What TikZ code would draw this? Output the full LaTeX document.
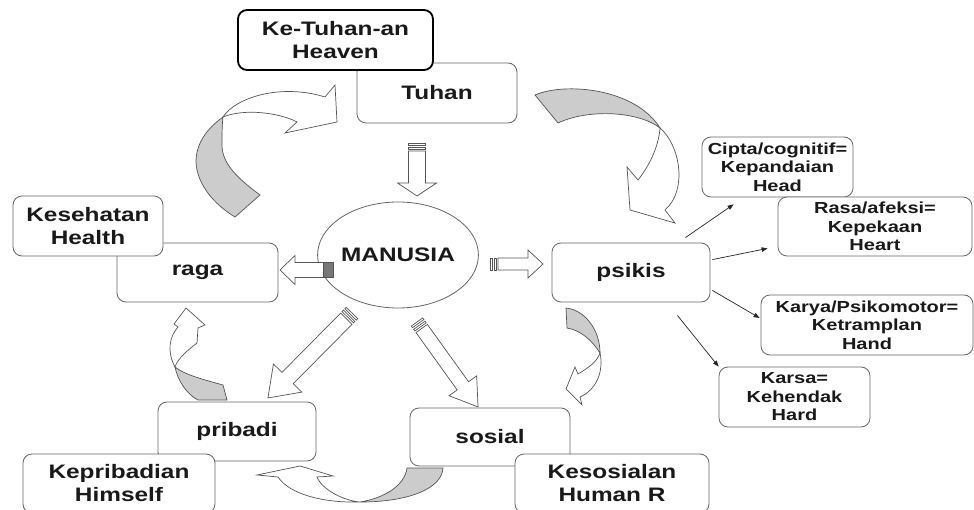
\documentclass[tikz,border=0pt]{standalone}
\usepackage{fontspec}
\setmainfont{Liberation Sans}
\newfontfamily\lbl[FakeStretch=1.25]{Liberation Sans}
\usetikzlibrary{shapes.geometric,arrows.meta,calc}
\definecolor{linegray}{HTML}{555555}
\definecolor{boxgray}{HTML}{666666}
\definecolor{shade}{HTML}{CCCCCC}
\definecolor{tailgray}{HTML}{777777}
\tikzset{
 box/.style={draw=boxgray, line width=0.8pt, fill=white, rounded corners=9pt, inner sep=0pt, align=center, text=black!90, font=\lbl\bfseries\fontsize{19.5}{23}\selectfont},
 smallbox/.style={box, font=\lbl\bfseries\fontsize{16}{18.5}\selectfont},
 heavenbox/.style={box, draw=black, line width=1.8pt},
 hub/.style={ellipse, draw=boxgray, line width=0.8pt, fill=white, inner sep=0pt, minimum width=126pt, minimum height=106pt, text=black!90, font=\lbl\bfseries\fontsize{19.5}{23}\selectfont},
 thinarr/.style={-{Triangle[length=6pt,width=4.5pt]}, line width=0.7pt, draw=black!85},
 blockline/.style={draw=linegray, line width=0.7pt, fill=white},
 backface/.style={draw=linegray, line width=0.7pt, fill=shade},
 frontface/.style={draw=linegray, line width=0.7pt, fill=white},
}
% #1 x, #2 y, #3 angle, #4 length, #5 shaft half width, #6 head half width, #7 head length, #8 body start
\newcommand\blockarr[8]{%
 \begin{scope}[shift={(#1,#2)}, rotate=#3]
 \draw[blockline] (#8,-#5) -- ({#4-#7},-#5) -- ({#4-#7},-#6) -- (#4,0) -- ({#4-#7},#6) -- ({#4-#7},#5) -- (#8,#5) -- cycle;
 \end{scope}}
\newcommand\stripes[2]{% #1 shaft half width, #2 scope options
 \begin{scope}[#2]
 \draw[blockline] (0,-#1) -- (2,-#1) -- (2,#1) -- (0,#1) -- cycle;
 \draw[blockline] (4,-#1) -- (6,-#1) -- (6,#1) -- (4,#1) -- cycle;
 \end{scope}}
\begin{document}
\begin{tikzpicture}[x=1pt,y=-1pt]
\useasboundingbox (0,0) rectangle (974,510);
\clip (0,0) rectangle (974,510);
\fill[white] (0,0) rectangle (974,510);

% boxes
\node[box, minimum width=160pt, minimum height=60pt] (tuhan) at (437,93) {Tuhan};
\node[heavenbox, minimum width=195pt, minimum height=60pt] (ketuhanan) at (335.5,40) {Ke-Tuhan-an\\Heaven};
\node[box, minimum width=161pt, minimum height=59pt] (raga) at (197.5,272.5) {raga};
\node[box, minimum width=150pt, minimum height=60pt] (kesehatan) at (88,226) {Kesehatan\\Health};
\node[box, minimum width=158pt, minimum height=59pt] (pribadi) at (237,431.5) {pribadi};
\node[box, minimum width=192pt, minimum height=59pt] (kepribadian) at (119,483.5) {Kepribadian\\Himself};
\node[box, minimum width=160pt, minimum height=58pt] (sosial) at (490,437) {sosial};
\node[box, minimum width=194pt, minimum height=59pt] (kesosialan) at (612,483.5) {Kesosialan\\Human R};
\node[box, minimum width=158pt, minimum height=59pt] (psikis) at (631,272.5) {psikis};
\node[smallbox, minimum width=151pt, minimum height=60pt] (cipta) at (777.5,167) {Cipta/cognitif=\\Kepandaian\\Head};
\node[smallbox, minimum width=194pt, minimum height=59pt] (rasa) at (875,226.5) {Rasa/afeksi=\\Kepekaan\\Heart};
\node[smallbox, minimum width=212pt, minimum height=60pt] (karya) at (867,325) {Karya/Psikomotor=\\Ketramplan\\Hand};
\node[smallbox, minimum width=151pt, minimum height=60pt] (karsa) at (794.5,397) {Karsa=\\Kehendak\\Hard};
\node[hub] (manusia) at (398,255) {MANUSIA};

% thin arrows from psikis
\draw[thinarr] ([xshift=-25pt,yshift=5pt]psikis.north east) -- ([xshift=32pt,yshift=-7pt]cipta.south west);
\draw[thinarr] ([xshift=2pt,yshift=-17pt]psikis.north east) -- ([xshift=-10pt,yshift=8pt]rasa.south west);
\draw[thinarr] ([xshift=2pt,yshift=12pt]psikis.south east) -- ([xshift=-1pt,yshift=7pt]karya.west);
\draw[thinarr] ([xshift=-33pt,yshift=-13pt]psikis.south east) -- (karsa.north west);

% block arrows
\blockarr{417}{143}{-90}{53}{8.5}{19.5}{13}{8}
\stripes{8.5}{shift={(417,143)},rotate=-90}
\blockarr{333}{270}{180}{53}{7.5}{14.5}{15}{0}
\begin{scope}[shift={(333,270)},rotate=180]
 \draw[line width=0.7pt, draw=linegray, fill=tailgray] (0,-7.5) -- (10,-7.5) -- (10,7.5) -- (0,7.5) -- cycle;
\end{scope}
\blockarr{490}{264}{0}{53}{6}{14}{15}{8}
\stripes{6}{shift={(490,264)},rotate=0}
\blockarr{352}{313}{-134.7}{119.5}{8}{20}{28}{8}
\stripes{8}{shift={(352,313)},rotate=-134.7}
\blockarr{417}{322}{-54.3}{104.6}{7}{17}{26}{8}
\stripes{7}{shift={(417,322)},rotate=-54.3}

% curved arrow: raga -> Tuhan
\draw[backface] (223,117) .. controls (205,130) and (196,145) .. (196,162) .. controls (197,185) and (215,205) .. (235,217) -- (260,195) .. controls (240,180) and (222,165) .. (222,145) .. controls (222,135) and (222,125) .. (223,117) -- cycle;
\draw[frontface] (223,117) .. controls (235,98) and (280,83) .. (325,97) -- (335,85) -- (337,122) -- (285,133) -- (297,122) .. controls (280,113) and (245,108) .. (223,117) -- cycle;

% curved arrow: Tuhan -> psikis
\draw[backface] (535,95) .. controls (565,82) and (635,88) .. (660,128) .. controls (640,112) and (590,108) .. (558,123) -- cycle;
\draw[frontface] (660,128) .. controls (680,145) and (688,190) .. (665,210) -- (675,223) -- (630,210) -- (627,167) -- (638,180) .. controls (650,165) and (659,145) .. (660,128) -- cycle;

% curved arrow: psikis -> sosial
\draw[backface] (566,308) .. controls (585,310) and (600,330) .. (600,353) .. controls (592,340) and (580,330) .. (567,328) -- cycle;
\draw[frontface] (600,353) .. controls (604,372) and (596,390) .. (580,397) -- (582,405) -- (566,389) -- (575,367) -- (578,374) .. controls (588,368) and (597,362) .. (600,353) -- cycle;

% curved arrow: sosial -> pribadi
\draw[backface] (407,468) -- (443,468) .. controls (442,488) and (410,502) .. (360,502) .. controls (385,498) and (405,485) .. (407,468) -- cycle;
\draw[frontface] (360,502) .. controls (325,503) and (290,495) .. (278,477) -- (257,475) -- (300,466) -- (333,476) -- (317,477) .. controls (322,490) and (345,501) .. (360,502) -- cycle;

% curved arrow: pribadi -> raga
\draw[backface] (175,367) .. controls (178,382) and (188,395) .. (198,400) -- (227,400) -- (223,385) .. controls (205,380) and (185,375) .. (175,367) -- cycle;
\draw[frontface] (175,367) .. controls (167,352) and (169,337) .. (178,327) -- (174,324) -- (186,308) -- (205,325) -- (198,328) -- (197,343) .. controls (188,350) and (178,358) .. (175,367) -- cycle;
\end{tikzpicture}
\end{document}
